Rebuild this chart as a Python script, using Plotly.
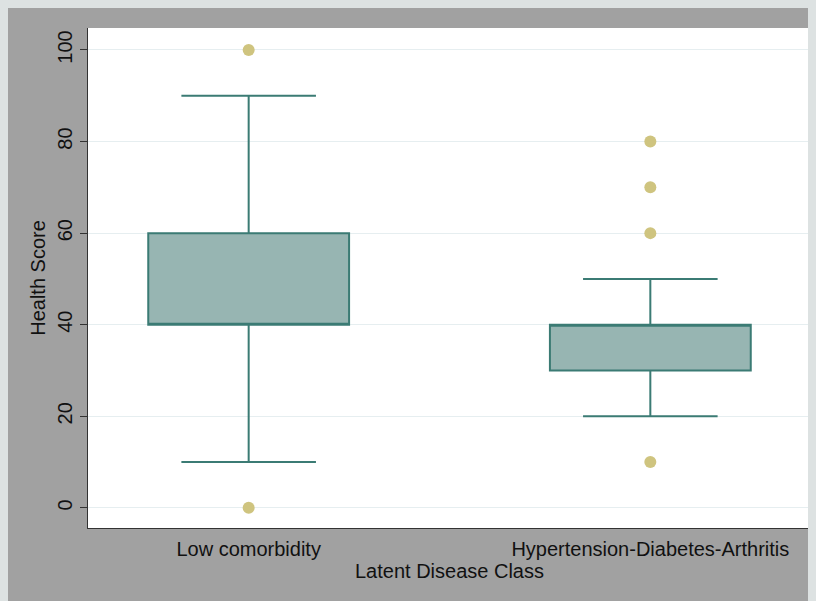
import plotly.graph_objects as go

categories = ["Low comorbidity", "Hypertension-Diabetes-Arthritis"]
q1 = [40, 30]
median = [40, 40]
q3 = [60, 40]
lower_whisker = [10, 20]
upper_whisker = [90, 50]
outliers = [[0, 100], [10, 60, 70, 80]]
y_ticks = [0, 20, 40, 60, 80, 100]

LINE = "#3b7b74"
FILL = "#97b5b2"
DOT = "#cfc47f"
GRAY = "#a1a1a1"
FONT = "Liberation Sans, Arial, sans-serif"

fig = go.Figure()
for i, c in enumerate(categories):
    fig.add_trace(go.Box(
        x=[c], q1=[q1[i]], median=[median[i]], q3=[q3[i]],
        lowerfence=[lower_whisker[i]], upperfence=[upper_whisker[i]],
        boxpoints=False, width=0.5, whiskerwidth=0.67,
        fillcolor=FILL, line=dict(color=LINE, width=2),
        showlegend=False, hoverinfo="skip",
    ))
    fig.add_trace(go.Scatter(
        x=[c] * len(outliers[i]), y=outliers[i], mode="markers",
        marker=dict(color=DOT, size=12), showlegend=False,
    ))

fig.update_layout(
    width=816, height=601,
    margin=dict(l=80, r=13, t=20, b=81),
    paper_bgcolor=GRAY, plot_bgcolor="white",
    font=dict(family=FONT, size=20, color="#111111"),
    xaxis=dict(
        type="category", categoryorder="array", categoryarray=categories,
        range=[-0.4, 1.4], showgrid=False, zeroline=False,
        showline=True, linecolor="#333333", linewidth=1,
        ticks="", ticklabelstandoff=3, tickfont=dict(size=20),
        title=dict(text="Latent Disease Class", standoff=1, font=dict(size=20)),
    ),
    yaxis=dict(
        range=[-4.4, 104.8], tickvals=y_ticks, tickangle=-90,
        showgrid=True, gridcolor="#e6eef0", gridwidth=1, zeroline=False,
        showline=True, linecolor="#333333", linewidth=1,
        ticks="outside", ticklen=7, tickcolor="#333333", tickfont=dict(size=20),
        title=dict(text="Health Score", standoff=3, font=dict(size=20)),
    ),
)

fig.write_html(
    "out.html",
    post_script="document.body.style.background='#dde2e2';document.body.style.overflow='hidden';",
)
